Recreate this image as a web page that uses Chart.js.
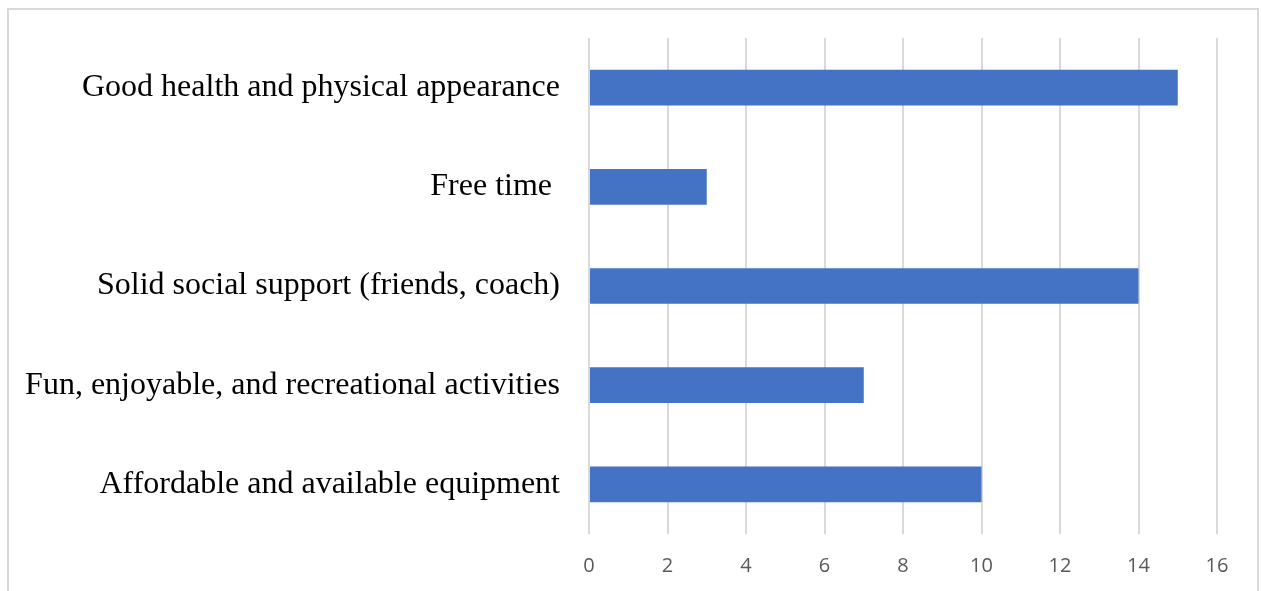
<!DOCTYPE html>
<html>
<head>
<meta charset="utf-8">
<script src="https://cdn.jsdelivr.net/npm/chart.js@4/dist/chart.umd.min.js"></script>
<style>
  html, body { margin: 0; padding: 0; background: #fff; overflow: hidden; }
  #frame {
    position: absolute; left: 7px; top: 8px; width: 1252px; height: 640px;
    border: 2px solid #d9d9d9; box-sizing: border-box; pointer-events: none;
  }
  #wrap { position: absolute; left: 0; top: 0; width: 1261px; height: 591px; }
</style>
</head>
<body>
<div id="wrap"><canvas id="motivesChart"></canvas></div>
<div id="frame"></div>
<script>
// Chart data, top to bottom as in the reference
const categories = [
  'Good health and physical appearance',
  'Free time ',
  'Solid social support (friends, coach)',
  'Fun, enjoyable, and recreational activities',
  'Affordable and available equipment'
];
const counts = [15, 3, 14, 7, 10];
const xTicks = [0, 2, 4, 6, 8, 10, 12, 14, 16];

const ctx = document.getElementById('motivesChart');

new Chart(ctx, {
  type: 'bar',
  data: {
    labels: categories,
    datasets: [{
      label: 'Count',
      data: counts,
      backgroundColor: '#4472C4',
      borderWidth: 0,
      barPercentage: 1,
      categoryPercentage: 0.36
    }]
  },
  options: {
    indexAxis: 'y',
    responsive: true,
    maintainAspectRatio: false,
    animation: false,
    layout: { padding: { left: 0, top: 38, right: 44, bottom: 0 } },
    plugins: {
      legend: { display: false },
      tooltip: { enabled: false }
    },
    scales: {
      x: {
        min: xTicks[0],
        max: xTicks[xTicks.length - 1],
        afterBuildTicks: scale => { scale.ticks = xTicks.map(v => ({ value: v })); },
        afterFit: scale => {
          scale.height = 57;
          scale.paddingLeft = 0;
          scale.paddingRight = 0;
        },
        border: { display: false },
        grid: { color: '#d9d9d9', lineWidth: 2, drawTicks: false },
        ticks: {
          padding: 20,
          color: '#595959',
          font: { family: 'Open Sans', size: 20 }
        }
      },
      y: {
        afterFit: scale => {
          scale.width = 589;
          // keep the tall serif labels from pushing the plot area down
          scale.paddingTop = 0;
          scale.paddingBottom = 0;
        },
        border: { display: false },
        grid: { display: false, drawTicks: false },
        ticks: {
          padding: 29,
          color: '#000',
          font: { family: 'Liberation Serif', size: 32 }
        }
      }
    }
  }
});
</script>
</body>
</html>
